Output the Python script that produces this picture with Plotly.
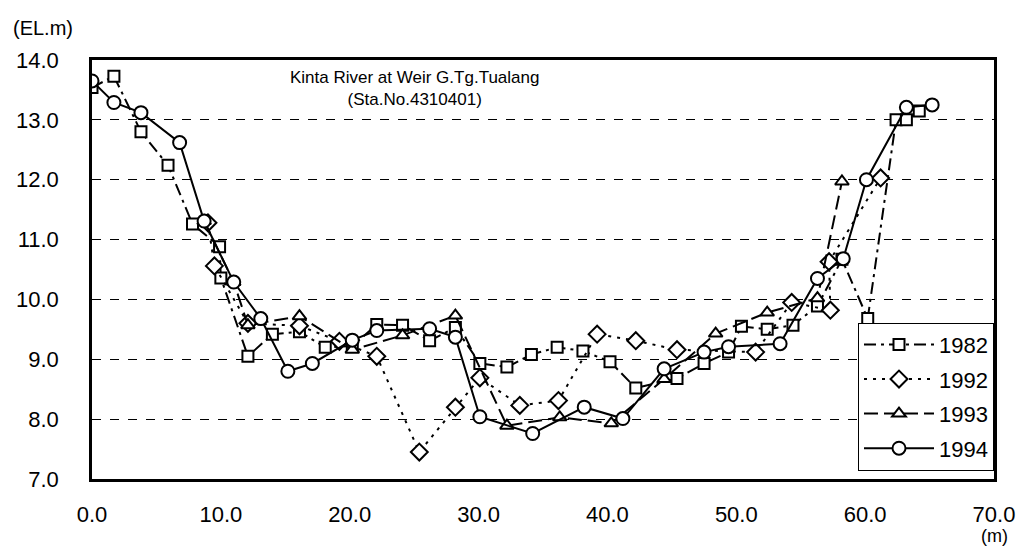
import plotly.graph_objects as go

# ---- data (distance m, elevation EL.m) ----
x_1982 = [0.0, 1.7, 3.8, 5.9, 7.8, 9.9, 10.0, 12.1, 14.0, 16.1, 18.1, 20.2, 22.1, 24.1, 26.2, 28.2,
          30.1, 32.2, 34.1, 36.1, 38.1, 40.2, 42.2, 45.4, 47.5, 49.4, 50.4, 52.4, 54.4, 56.3, 58.2,
          60.2, 62.4, 63.2, 64.2]
y_1982 = [13.54, 13.73, 12.80, 12.24, 11.26, 10.88, 10.36, 9.05, 9.42, 9.46, 9.20, 9.22, 9.58, 9.57, 9.31, 9.53,
          8.93, 8.87, 9.08, 9.20, 9.14, 8.96, 8.52, 8.68, 8.93, 9.12, 9.55, 9.50, 9.57, 9.89, 10.67,
          9.68, 13.00, 13.00, 13.15]

x_1992 = [9.0, 9.5, 12.1, 16.1, 19.2, 22.1, 25.4, 28.2, 30.1, 33.2, 36.2, 39.2, 42.2, 45.4, 51.5,
          54.3, 57.3, 57.2, 61.2]
y_1992 = [11.28, 10.56, 9.60, 9.56, 9.30, 9.05, 7.45, 8.20, 8.69, 8.23, 8.31, 9.42, 9.31, 9.16, 9.12,
          9.95, 9.82, 10.63, 12.03]

x_1993 = [8.7, 11.0, 12.1, 16.1, 20.2, 24.1, 28.2, 32.2, 36.3, 40.3, 44.4, 48.4, 52.4, 56.3, 58.2]
y_1993 = [11.31, 10.29, 9.57, 9.72, 9.16, 9.40, 9.73, 7.89, 8.03, 7.93, 8.67, 9.43, 9.78, 10.02, 11.97]

x_1994 = [0.0, 1.7, 3.8, 6.8, 8.7, 11.0, 13.1, 15.2, 17.1, 20.2, 22.1, 26.2, 28.2, 30.1, 34.2, 38.2,
          41.2, 44.4, 47.5, 49.4, 53.4, 56.3, 58.3, 60.1, 63.2, 65.2]
y_1994 = [13.65, 13.29, 13.12, 12.62, 11.31, 10.29, 9.68, 8.80, 8.93, 9.32, 9.48, 9.51, 9.37, 8.04, 7.76, 8.20,
          8.01, 8.84, 9.12, 9.21, 9.26, 10.35, 10.68, 12.00, 13.21, 13.25]

x_ticks = [0, 10, 20, 30, 40, 50, 60, 70]
y_ticks = [7, 8, 9, 10, 11, 12, 13, 14]

series = [
    ("1982", x_1982, y_1982, "square", "12px,5px,3px,5px", 11),
    ("1992", x_1992, y_1992, "diamond", "3px,6px", 13),
    ("1993", x_1993, y_1993, "triangle-up", "14px,6px", 12),
    ("1994", x_1994, y_1994, "circle", "solid", 13),
]

FONT = "Liberation Sans, Arial, sans-serif"

fig = go.Figure()
for name, xs, ys, sym, dash, msize in series:
    fig.add_trace(go.Scatter(
        x=xs, y=ys, name=name, mode="lines+markers", legendgroup=name,
        line=dict(color="black", width=2, dash=dash),
        marker=dict(symbol=sym, size=msize, color="white",
                    line=dict(color="black", width=2)),
    ))

fig.update_layout(
    width=1027, height=547,
    margin=dict(l=92, r=30, t=60, b=68),
    paper_bgcolor="white", plot_bgcolor="white",
    font=dict(family=FONT, color="black", size=20),
    showlegend=True,
    legend=dict(
        x=1.0, xanchor="right", y=0.02, yanchor="bottom",
        bgcolor="white", bordercolor="black", borderwidth=1,
        font=dict(size=22, family=FONT),
        itemwidth=70, tracegroupgap=3,
    ),
)

fig.update_xaxes(
    range=[0, 70], tickvals=x_ticks, tickformat=".1f",
    showgrid=False, zeroline=False,
    showline=True, mirror=True, linecolor="black", linewidth=2.5,
    ticks="", ticklabelstandoff=14,
    tickfont=dict(size=22, family=FONT),
)
fig.update_yaxes(
    range=[7, 14], tickvals=y_ticks, tickformat=".1f",
    showgrid=True, gridcolor="black", gridwidth=1, griddash="dash",
    zeroline=False,
    showline=True, mirror=True, linecolor="black", linewidth=2.5,
    ticks="", ticklabelstandoff=26,
    tickfont=dict(size=22, family=FONT),
)

fig.add_annotation(text="(EL.m)", xref="paper", yref="paper", x=-0.054, y=1.076,
                   xanchor="center", yanchor="middle", showarrow=False,
                   font=dict(size=20, family=FONT))
fig.add_annotation(text="Kinta River at Weir G.Tg.Tualang<br>(Sta.No.4310401)",
                   xref="paper", yref="paper", x=0.357, y=0.933,
                   xanchor="center", yanchor="middle", align="center", showarrow=False,
                   font=dict(size=17, family=FONT))
fig.add_annotation(text="(m)", xref="paper", yref="paper", x=1.0, y=-0.136,
                   xanchor="center", yanchor="middle", showarrow=False,
                   font=dict(size=18, family=FONT))

fig.write_html("out.html")
